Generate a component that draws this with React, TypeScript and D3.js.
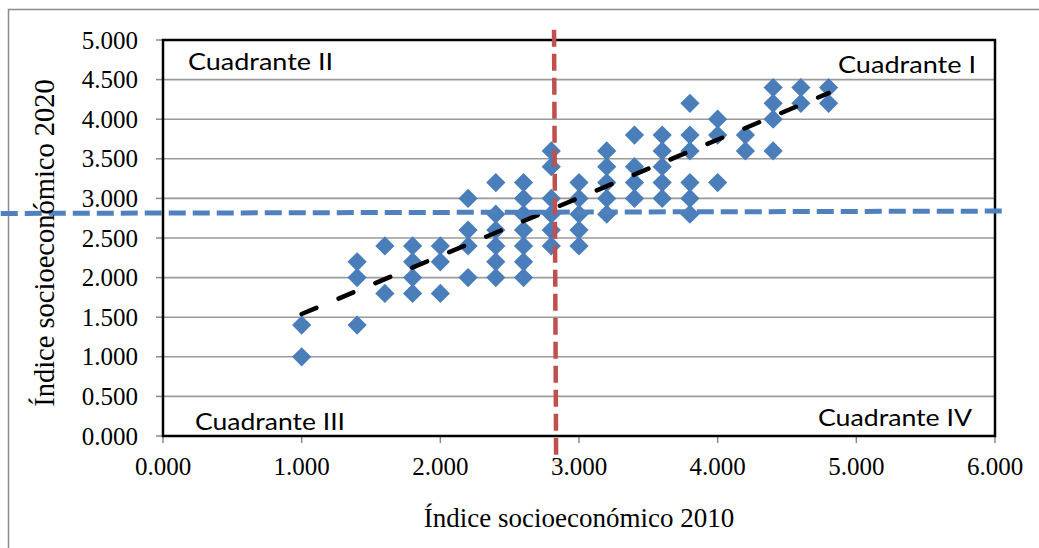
import React from "react";
import * as d3 from "d3";

// Data
const columnX: number[] = [1.0, 1.4, 1.6, 1.8, 2.0, 2.2, 2.4, 2.6, 2.8, 3.0, 3.2, 3.4, 3.6, 3.8, 4.0, 4.2, 4.4, 4.6, 4.8];
const columnY: number[][] = [
  [1.4, 1.0],
  [2.2, 2.0, 1.4],
  [2.4, 1.8],
  [2.4, 2.2, 2.0, 1.8],
  [2.4, 2.2, 1.8],
  [3.0, 2.6, 2.4, 2.0],
  [3.2, 2.8, 2.6, 2.4, 2.2, 2.0],
  [3.2, 3.0, 2.8, 2.6, 2.4, 2.2, 2.0],
  [3.6, 3.4, 3.0, 2.8, 2.6, 2.4],
  [3.2, 3.0, 2.8, 2.6, 2.4],
  [3.6, 3.4, 3.2, 3.0, 2.8],
  [3.8, 3.4, 3.2, 3.0],
  [3.8, 3.6, 3.4, 3.2, 3.0],
  [4.2, 3.8, 3.6, 3.2, 3.0, 2.8],
  [4.0, 3.8, 3.2],
  [3.8, 3.6],
  [4.4, 4.2, 4.0, 3.6],
  [4.4, 4.2],
  [4.4, 4.2],
];
const xTicks: number[] = [0, 1, 2, 3, 4, 5, 6];
const yTicks: number[] = [0, 0.5, 1, 1.5, 2, 2.5, 3, 3.5, 4, 4.5, 5];
const trendSlope = 0.734;
const trendIntercept = 0.806;
const trendRange: number[] = [1.0, 4.8];
// Reference lines (quadrant dividers) in data units
const hLineX: number[] = [-1.17, 6.06];
const hLineY: number[] = [2.81, 2.84];
const vLineX: number[] = [2.82, 2.835];
const vLineY: number[] = [5.13, -0.33];
const xTitle = "Índice socioeconómico 2010";
const yTitle = "Índice socioeconómico 2020";
const quadrantLabels = ["Cuadrante I", "Cuadrante II", "Cuadrante III", "Cuadrante IV"];

const W = 1039;
const H = 548;
const L = 163, R = 995, T = 40, B = 436;

export default function App() {
  const x = d3.scaleLinear().domain([0, 6]).range([L, R]);
  const y = d3.scaleLinear().domain([0, 5]).range([B, T]);
  const fmt = d3.format(".3f");
  const points = columnX.flatMap((cx, i) => columnY[i].map((cy) => ({ x: cx, y: cy })));
  const diamond = d3.symbol().type(d3.symbolSquare).size(185)() as string;
  const line = d3.line<number[]>().x((d) => x(d[0])).y((d) => y(d[1]));
  const trend = line(trendRange.map((v) => [v, trendIntercept + trendSlope * v]));
  const hLine = line(hLineX.map((v, i) => [v, hLineY[i]]));
  const vLine = line(vLineX.map((v, i) => [v, vLineY[i]]));
  const serif = "'Liberation Serif', 'Times New Roman', serif";
  const sans = "Lato, 'Open Sans', sans-serif";
  const qStyle = { fontFamily: sans, fontSize: 24, fill: "#000" } as const;

  return (
    <svg width={W} height={H} style={{ position: "fixed", left: 0, top: 0, background: "#fff" }}>
      <rect x={0} y={0} width={W} height={H} fill="#fff" />
      <rect x={8.5} y={9.5} width={W + 20} height={H + 20} fill="none" stroke="#8c8c8c" strokeWidth={1.5} />
      {/* gridlines */}
      {yTicks.map((t) => (
        <line key={"g" + t} x1={L} x2={R} y1={y(t)} y2={y(t)} stroke="#9a9a9a" strokeWidth={1.6} />
      ))}
      {/* y ticks */}
      {yTicks.map((t) => (
        <g key={"yt" + t}>
          <line x1={L - 7} x2={L} y1={y(t)} y2={y(t)} stroke="#8a8a8a" strokeWidth={1.5} />
          <text x={138} y={y(t) + 8.5} textAnchor="end" fontFamily={serif} fontSize={25} fill="#000">
            {fmt(t)}
          </text>
        </g>
      ))}
      {/* x ticks */}
      {xTicks.map((t) => (
        <g key={"xt" + t}>
          <line x1={x(t)} x2={x(t)} y1={B} y2={B + 7} stroke="#8a8a8a" strokeWidth={1.5} />
          <text x={x(t)} y={475} textAnchor="middle" fontFamily={serif} fontSize={25} fill="#000">
            {fmt(t)}
          </text>
        </g>
      ))}
      {/* points */}
      {points.map((p, i) => (
        <path key={"p" + i} d={diamond} transform={`translate(${x(p.x)},${y(p.y)}) rotate(45)`} fill="#4a7ebb" />
      ))}
      {/* trendline */}
      <path d={trend ?? ""} fill="none" stroke="#000" strokeWidth={4.5} strokeDasharray="16 24" strokeLinecap="round" />
      {/* plot border */}
      <rect x={L} y={T} width={R - L} height={B - T} fill="none" stroke="#000" strokeWidth={2.5} />
      {/* quadrant labels */}
      <text x={838} y={73} textLength={138} lengthAdjust="spacingAndGlyphs" {...qStyle}>{quadrantLabels[0]}</text>
      <text x={188} y={70} textLength={145} lengthAdjust="spacingAndGlyphs" {...qStyle}>{quadrantLabels[1]}</text>
      <text x={195} y={430} textLength={150} lengthAdjust="spacingAndGlyphs" {...qStyle}>{quadrantLabels[2]}</text>
      <text x={818} y={426} textLength={154} lengthAdjust="spacingAndGlyphs" {...qStyle}>{quadrantLabels[3]}</text>
      {/* quadrant divider lines */}
      <path d={hLine ?? ""} fill="none" stroke="#4f81bd" strokeWidth={5} strokeDasharray="17 7" />
      <path d={vLine ?? ""} fill="none" stroke="#c0504d" strokeWidth={4.5} strokeDasharray="17 7" />
      {/* axis titles */}
      <text x={(L + R) / 2} y={527} textAnchor="middle" fontFamily={serif} fontSize={27} fill="#000">
        {xTitle}
      </text>
      <text transform={`translate(54,243) rotate(-90)`} textAnchor="middle" fontFamily={serif} fontSize={28.5} fill="#000">
        {yTitle}
      </text>
    </svg>
  );
}
